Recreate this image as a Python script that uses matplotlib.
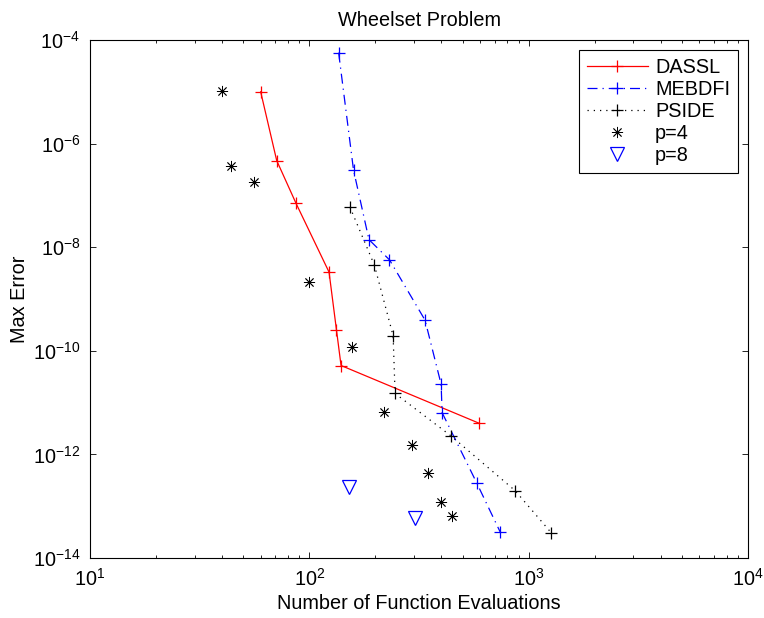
import matplotlib
matplotlib.use("Agg")
import matplotlib.pyplot as plt
from matplotlib.ticker import LogLocator, LogFormatterSciNotation, NullLocator

plt.rcParams['font.family'] = ['Liberation Sans', 'DejaVu Sans']
plt.rcParams['mathtext.fontset'] = 'custom'
plt.rcParams['mathtext.rm'] = 'Liberation Sans'
plt.rcParams['mathtext.it'] = 'Liberation Sans'
plt.rcParams['axes.unicode_minus'] = False

# data
dassl_x = [60, 71, 87, 123, 133, 139.5, 594]
dassl_y = [1.0e-5, 4.7e-7, 7.0e-8, 3.3e-9, 2.5e-10, 5.2e-11, 4.0e-12]

mebdfi_x = [136, 159, 187, 232, 337, 399, 403, 580, 741]
mebdfi_y = [5.7e-5, 3.1e-7, 1.4e-8, 5.7e-9, 3.9e-10, 2.25e-11, 6.4e-12, 2.8e-13, 3.2e-14]

pside_x = [153, 198, 241, 246, 441, 867, 1265]
pside_y = [6.0e-8, 4.5e-9, 1.96e-10, 1.5e-11, 2.3e-12, 2.0e-13, 3.1e-14]

p4_x = [40, 44, 56, 100, 156, 220, 293, 348, 399, 449]
p4_y = [1.05e-5, 3.7e-7, 1.84e-7, 2.16e-9, 1.2e-10, 6.7e-12, 1.5e-12, 4.3e-13, 1.2e-13, 6.5e-14]

p8_x = [152, 303]
p8_y = [2.3e-13, 5.8e-14]

FS = 14.3

fig = plt.figure(figsize=(7.64, 6.18), dpi=100)
ax = fig.add_axes([90/764, 1-558/618, (748-90)/764, (558-40)/618])

ax.plot(dassl_x, dassl_y, color='red', linestyle='-', linewidth=0.9,
        marker='+', markersize=8.5, markeredgewidth=0.9, label='DASSL')
ax.plot(mebdfi_x, mebdfi_y, color='blue', linestyle=(0, (8, 4, 1, 4)), linewidth=0.9,
        marker='+', markersize=8.5, markeredgewidth=0.9, label='MEBDFI')
ax.plot(pside_x, pside_y, color='black', linestyle=(0, (1, 4)), linewidth=0.9,
        marker='+', markersize=8.5, markeredgewidth=0.9, label='PSIDE')
ax.plot(p4_x, p4_y, color='black', linestyle='none', marker=(8, 2, 0),
        markersize=8, markeredgewidth=0.6, label='p=4')
ax.plot(p8_x, p8_y, color='blue', linestyle='none', marker='v', markersize=10,
        markerfacecolor='none', markeredgewidth=0.9, label='p=8')

ax.set_xscale('log')
ax.set_yscale('log')
ax.set_xlim(10, 1e4)
ax.set_ylim(1e-14, 1e-4)

ax.xaxis.set_major_locator(LogLocator(base=10, numticks=10))
ax.xaxis.set_minor_locator(LogLocator(base=10, subs=range(2, 10), numticks=20))
ax.yaxis.set_major_locator(LogLocator(base=100, numticks=10))
ax.yaxis.set_minor_locator(NullLocator())
ax.yaxis.set_major_formatter(LogFormatterSciNotation(base=10))

ax.tick_params(which='both', direction='in', top=True, right=True, labelsize=FS, pad=7)
ax.tick_params(which='major', length=4.5, width=0.6)
ax.tick_params(which='minor', length=2.5, width=0.6)
for s in ax.spines.values():
    s.set_linewidth(0.8)

ax.set_title('Wheelset Problem', fontsize=FS, pad=10)
ax.set_xlabel('Number of Function Evaluations', fontsize=FS, labelpad=3)
ax.set_ylabel('Max Error', fontsize=FS, labelpad=3)

leg = ax.legend(loc='upper right', fontsize=FS, frameon=True, fancybox=False,
                edgecolor='black', framealpha=1, handlelength=3.1,
                handletextpad=0.35, borderpad=0.4, borderaxespad=0.5,
                labelspacing=0.15)
leg.get_frame().set_linewidth(0.8)

fig.savefig('out.png', dpi=100)
